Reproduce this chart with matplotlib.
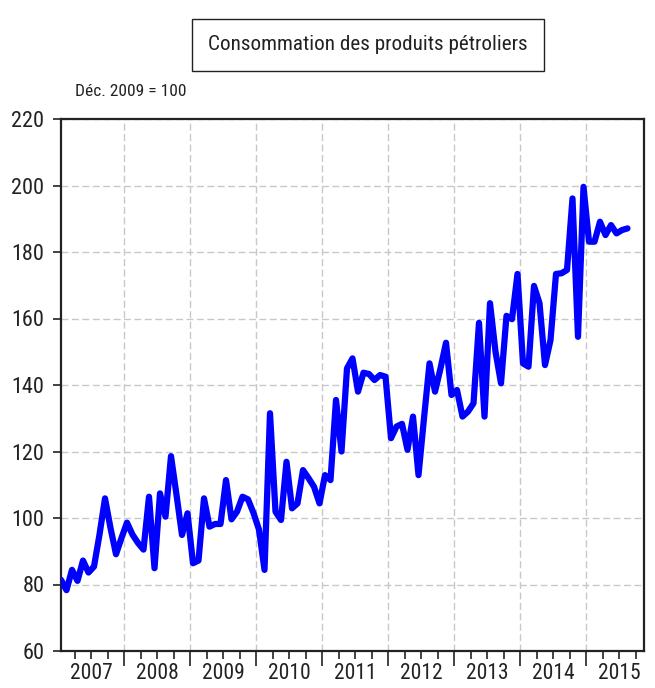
import numpy as np
import matplotlib
matplotlib.use("Agg")
import matplotlib.pyplot as plt
from matplotlib.ticker import FixedLocator, NullFormatter

# monthly index, Jan 2007 .. Aug 2015 (Dec. 2009 = 100)
start_year = 2007
values = [
    81.4, 78.3, 84.4, 81.1, 87.2, 83.6, 85.4, 95.0, 105.9, 97.0, 89.1, 94.0,
    98.6, 95.0, 92.5, 90.5, 106.4, 84.9, 107.4, 100.4, 118.6, 107.0, 94.9, 101.4,
    86.4, 87.2, 105.9, 97.4, 98.2, 98.2, 111.4, 99.6, 101.9, 106.4, 105.6, 101.5,
    96.5, 84.4, 131.5, 101.9, 99.4, 116.9, 102.9, 104.4, 114.4, 112.0, 109.4, 104.4,
    112.9, 111.4, 135.5, 120.0, 145.0, 148.0, 138.0, 143.7, 143.3, 141.5, 143.0, 142.5,
    124.0, 127.5, 128.3, 120.5, 130.5, 112.9, 130.0, 146.5, 138.0, 145.0, 152.7, 137.0,
    138.5, 130.5, 132.0, 134.5, 158.7, 130.5, 164.6, 150.0, 140.5, 160.8, 159.8, 173.4,
    146.5, 145.5, 169.8, 164.6, 146.0, 153.5, 173.4, 173.6, 174.6, 196.1, 154.5, 199.6,
    183.1, 183.1, 189.1, 185.1, 188.1, 185.6, 186.6, 187.1,
]
years = list(range(2007, 2016))
yticks = [60, 80, 100, 120, 140, 160, 180, 200, 220]

title = "Consommation des produits pétroliers"
subtitle = "Déc. 2009 = 100"

plt.rcParams["font.family"] = ["Roboto Condensed", "Archivo Narrow", "DejaVu Sans"]

x = start_year + (np.arange(len(values)) + 0.5) / 12.0

fig = plt.figure(figsize=(6.55, 6.88), dpi=100)
ax = fig.add_axes([61 / 655, 1 - 651 / 688, 583 / 655, 532 / 688])

ax.plot(x, values, color="#0000ff", lw=4.5, solid_joinstyle="round", solid_capstyle="round",
        zorder=3)

ax.set_xlim(start_year + 0.5 / 12, 2015.875)
ax.set_ylim(60, 220)

# year boundaries: major ticks + grid, quarters: minor ticks, labels mid-year
ax.xaxis.set_major_locator(FixedLocator(years[1:]))
ax.xaxis.set_major_formatter(NullFormatter())
quarters = [y + q / 4 for y in years for q in (1, 2, 3)]
ax.xaxis.set_minor_locator(FixedLocator(quarters))
ax.tick_params(axis="x", which="major", length=11, width=1.2, color="#222222")
ax.tick_params(axis="x", which="minor", length=6, width=1.2, color="#222222")
for y in years:
    ax.text(y + 0.5, -0.022, str(y), transform=ax.get_xaxis_transform(),
            ha="center", va="top", fontsize=15.5, color="#222222")

ax.set_yticks(yticks)
ax.set_yticklabels([str(v) for v in yticks])
ax.tick_params(axis="y", length=6, width=1.2, color="#222222", labelsize=16,
               labelcolor="#222222", pad=6)

ax.grid(True, which="major", color="#c8c8c8", lw=1.0, linestyle=(0, (5, 2.5)))
ax.set_axisbelow(True)
for s in ax.spines.values():
    s.set_linewidth(1.6)
    s.set_color("#222222")

fig.text(368 / 655, 1 - 45 / 688, title, ha="center", va="center", fontsize=15.2,
         color="#222222",
         bbox=dict(boxstyle="square,pad=0.78", facecolor="white", edgecolor="#222222", lw=1.0))
fig.text(75 / 655, 1 - 91 / 688, subtitle, ha="left", va="center", fontsize=12.5, color="#222222")

plt.savefig("out.png", dpi=100)
